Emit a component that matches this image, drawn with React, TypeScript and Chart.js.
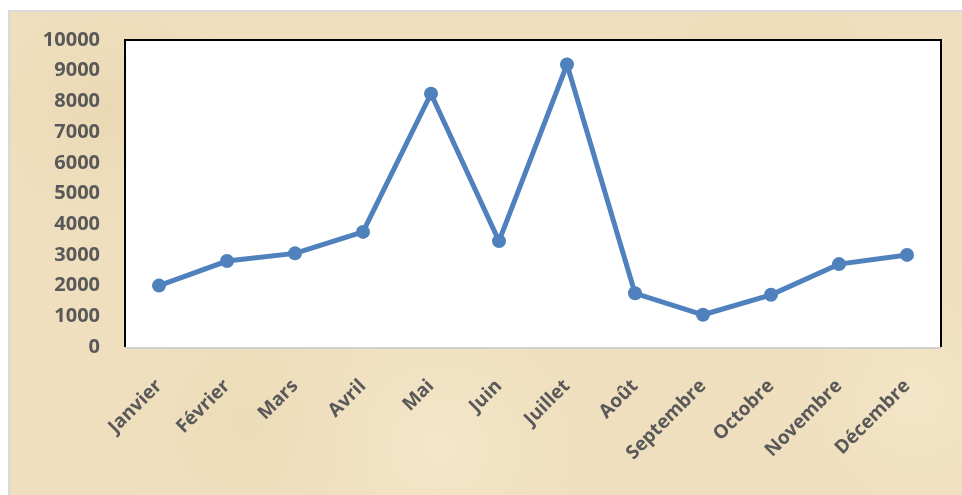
import React, { useEffect, useRef } from "react";
import { Chart, registerables } from "chart.js";

Chart.register(...registerables);

const months = [
  "Janvier", "Février", "Mars", "Avril", "Mai", "Juin",
  "Juillet", "Août", "Septembre", "Octobre", "Novembre", "Décembre",
];
const values = [2000, 2800, 3050, 3750, 8250, 3450, 9200, 1750, 1050, 1700, 2700, 3000];
const yMin = 0;
const yMax = 10000;
const yStep = 1000;

const FONT = "'Open Sans', 'DejaVu Sans', sans-serif";
const TEXT = "#595959";

const backgroundPlugin = {
  id: "parchment",
  beforeDraw(chart: any) {
    const { ctx, width, height, chartArea } = chart;
    ctx.save();
    ctx.fillStyle = "#efdfbe";
    ctx.fillRect(0, 0, width, height);
    const blobs: [number, number, number, string][] = [
      [0.1, 0.2, 160, "rgba(230,210,170,0.5)"],
      [0.45, 0.9, 200, "rgba(247,236,210,0.6)"],
      [0.8, 0.15, 180, "rgba(232,214,174,0.45)"],
      [0.95, 0.8, 160, "rgba(246,234,206,0.6)"],
      [0.25, 0.85, 150, "rgba(234,216,178,0.45)"],
    ];
    for (const [bx, by, r, c] of blobs) {
      const g = ctx.createRadialGradient(bx * width, by * height, 0, bx * width, by * height, r);
      g.addColorStop(0, c);
      g.addColorStop(1, "rgba(239,223,190,0)");
      ctx.fillStyle = g;
      ctx.fillRect(0, 0, width, height);
    }
    ctx.fillStyle = "#ffffff";
    ctx.fillRect(chartArea.left, chartArea.top, chartArea.right - chartArea.left, chartArea.bottom - chartArea.top);
    ctx.restore();
  },
  beforeDatasetsDraw(chart: any) {
    const { ctx, chartArea } = chart;
    ctx.save();
    ctx.strokeStyle = "#000000";
    ctx.lineWidth = 2;
    ctx.beginPath();
    ctx.moveTo(chartArea.left, chartArea.bottom);
    ctx.lineTo(chartArea.left, chartArea.top);
    ctx.lineTo(chartArea.right, chartArea.top);
    ctx.lineTo(chartArea.right, chartArea.bottom);
    ctx.stroke();
    ctx.strokeStyle = "#d0d0d0";
    ctx.beginPath();
    ctx.moveTo(chartArea.left, chartArea.bottom + 1);
    ctx.lineTo(chartArea.right, chartArea.bottom + 1);
    ctx.stroke();
    ctx.restore();
  },
};

export default function App() {
  const ref = useRef<HTMLCanvasElement>(null);

  useEffect(() => {
    document.documentElement.style.overflow = "hidden";
    document.body.style.overflow = "hidden";
    const chart = new Chart(ref.current!, {
      type: "line",
      data: {
        labels: months,
        datasets: [
          {
            data: values,
            borderColor: "#4f81bd",
            backgroundColor: "#4f81bd",
            borderWidth: 5,
            pointRadius: 7,
            pointBorderWidth: 0,
            pointBackgroundColor: "#4f81bd",
            tension: 0,
          },
        ],
      },
      options: {
        animation: false,
        responsive: false,
        layout: { padding: { left: 0, top: 28, right: 21, bottom: 0 } },
        plugins: { legend: { display: false }, tooltip: { enabled: false } },
        scales: {
          x: {
            offset: true,
            grid: { display: false, drawTicks: false },
            border: { display: false },
            afterFit(scale: any) {
              scale.height = 148;
            },
            ticks: {
              color: TEXT,
              font: { family: FONT, size: 19, weight: "bold" },
              maxRotation: 45,
              minRotation: 45,
              autoSkip: false,
              padding: 28,
            },
          },
          y: {
            min: yMin,
            max: yMax,
            grid: { display: false, drawTicks: false },
            border: { display: false },
            afterFit(scale: any) {
              scale.width = 115;
              scale.paddingTop = 10;
              scale.paddingBottom = 10;
            },
            ticks: {
              stepSize: yStep,
              color: TEXT,
              font: { family: FONT, size: 20, weight: "bold" },
              padding: 25,
              callback: (v: any) => String(v),
            },
          },
        },
      },
      plugins: [backgroundPlugin],
    } as any);
    return () => chart.destroy();
  }, []);

  return (
    <div
      style={{
        position: "absolute",
        left: 8,
        top: 10,
        width: 954,
        height: 485,
        borderTop: "2px solid #d9d9d9",
        borderLeft: "2px solid #d9d9d9",
        boxSizing: "border-box",
      }}
    >
      <canvas ref={ref} width={952} height={483} style={{ display: "block" }} />
    </div>
  );
}
